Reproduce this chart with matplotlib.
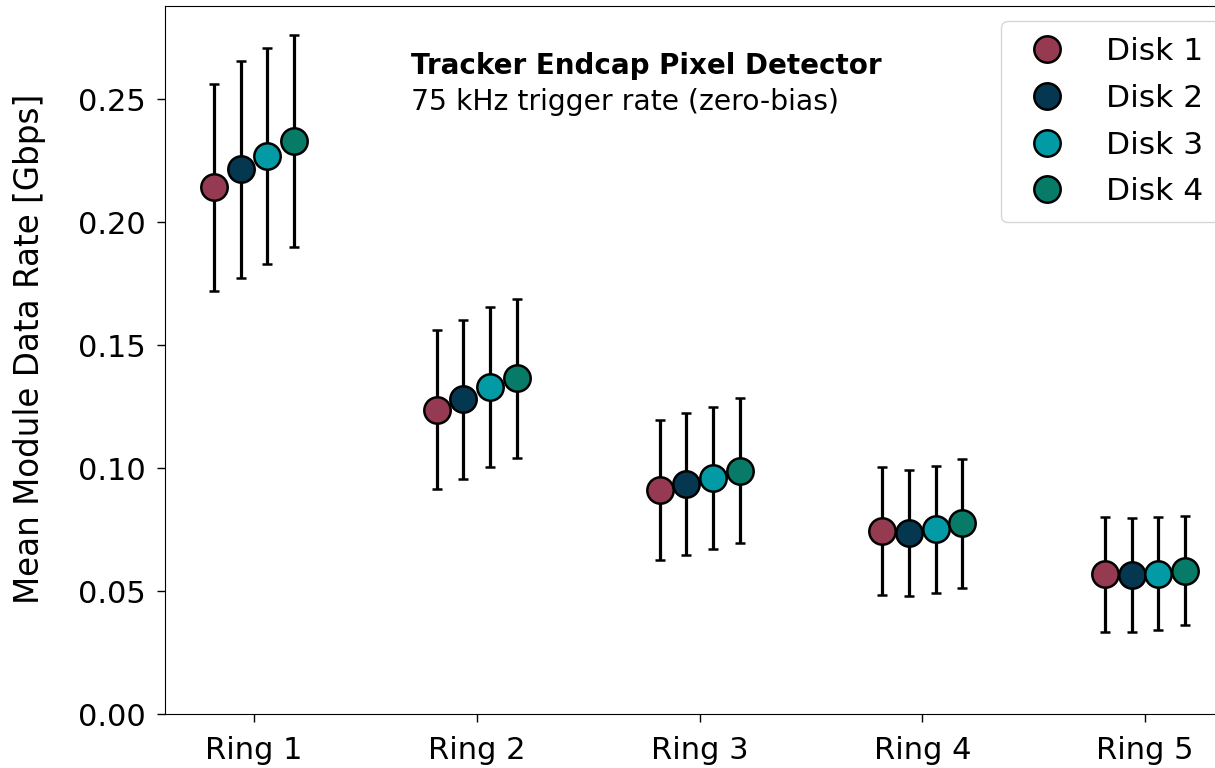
import matplotlib
matplotlib.use("Agg")
import matplotlib.pyplot as plt
import numpy as np

# Data: mean module data rate per ring, one list per disk
rings = ["Ring 1", "Ring 2", "Ring 3", "Ring 4", "Ring 5"]
disks = ["Disk 1", "Disk 2", "Disk 3", "Disk 4"]

rate_disk1 = [0.2141, 0.1238, 0.0911, 0.0744, 0.0569]
rate_disk2 = [0.2215, 0.1280, 0.0934, 0.0736, 0.0565]
rate_disk3 = [0.2270, 0.1328, 0.0958, 0.0752, 0.0570]
rate_disk4 = [0.2329, 0.1365, 0.0989, 0.0776, 0.0583]

err_disk1 = [0.0422, 0.0322, 0.0284, 0.0260, 0.0234]
err_disk2 = [0.0441, 0.0323, 0.0289, 0.0256, 0.0233]
err_disk3 = [0.0439, 0.0325, 0.0289, 0.0258, 0.0230]
err_disk4 = [0.0430, 0.0323, 0.0294, 0.0262, 0.0222]

rates = [rate_disk1, rate_disk2, rate_disk3, rate_disk4]
errors = [err_disk1, err_disk2, err_disk3, err_disk4]
colors = ["#963A52", "#063750", "#029BA5", "#087A68"]
offsets = [-0.18, -0.06, 0.06, 0.18]

fig = plt.figure(figsize=(12.15, 7.68), dpi=100)
# axes runs a bit past the right edge, like the cropped original
ax = fig.add_axes([0.1358, 0.0703, 0.88, 0.9223])

x = np.arange(len(rings))
for i in range(len(disks)):
    ax.errorbar(x + offsets[i], rates[i], yerr=errors[i], fmt="o",
                color="black", ecolor="black", elinewidth=2.3,
                capsize=3.5, capthick=2.3,
                marker="o", markersize=19, markerfacecolor=colors[i],
                markeredgecolor="black", markeredgewidth=1.8,
                label=disks[i], zorder=3)

ax.set_xlim(-0.4, 4.4)
ax.set_ylim(0, 0.288)
ax.set_xticks(x)
ax.set_xticklabels(rings)
ax.set_yticks([0.00, 0.05, 0.10, 0.15, 0.20, 0.25])
ax.set_yticklabels(["0.00", "0.05", "0.10", "0.15", "0.20", "0.25"])
ax.tick_params(axis="both", labelsize=22, length=6, width=1, pad=8)
ax.tick_params(axis="x", pad=10)
ax.set_ylabel("Mean Module Data Rate [Gbps]", fontsize=23.5)
ax.yaxis.set_label_coords(-0.111, 0.5155)

ax.text(0.230, 0.9035, "Tracker Endcap Pixel Detector", transform=ax.transAxes,
        fontsize=20, fontweight="bold", va="baseline")
ax.text(0.230, 0.8531, "75 kHz trigger rate (zero-bias)", transform=ax.transAxes,
        fontsize=20.3, va="baseline")

handles, labels = ax.get_legend_handles_labels()
handles = [h[0] for h in handles]
ax.legend(handles, labels, loc="upper right", bbox_to_anchor=(0.9860, 0.9780),
          borderaxespad=0, fontsize=22.5, numpoints=1,
          handletextpad=0.96, labelspacing=0.57, borderpad=0.5,
          markerscale=1.0, handlelength=1.9)

plt.savefig("out.png", dpi=100)
